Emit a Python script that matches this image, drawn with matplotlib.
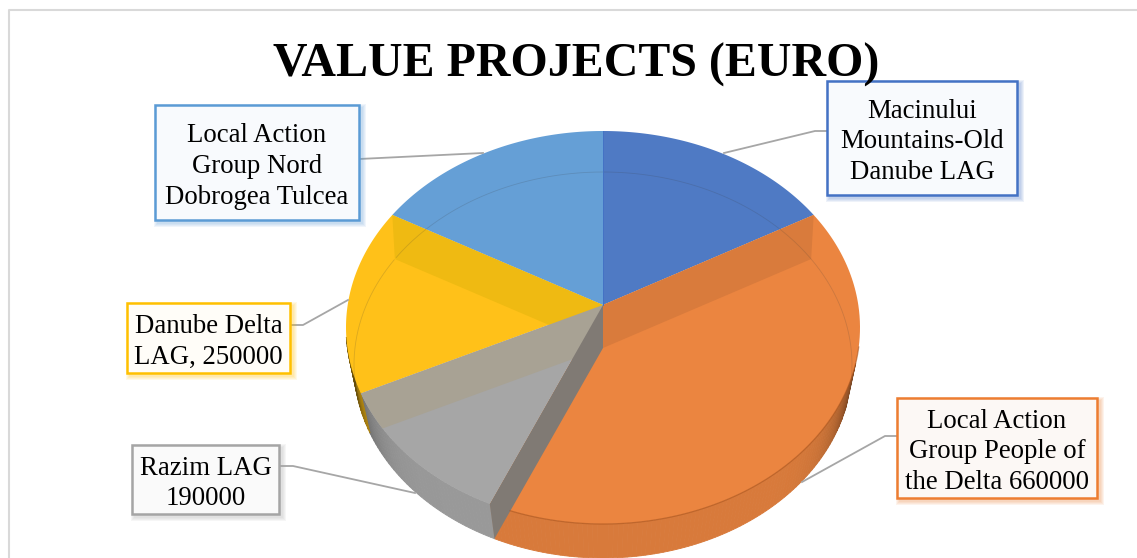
import matplotlib
matplotlib.use('Agg')
import matplotlib.pyplot as plt
from matplotlib.patches import Polygon, Rectangle, Ellipse
from matplotlib.colors import to_rgb
import numpy as np

# clockwise from 12 o'clock; only three values are printed on the chart
slice_names = ['Macinului Mountains-Old Danube LAG', 'Local Action Group People of the Delta',
               'Razim LAG', 'Danube Delta LAG', 'Local Action Group Nord Dobrogea Tulcea']
slice_values = [240000, 660000, 190000, 250000, 240000]
slice_colors = ['#4F7AC4', '#EB8540', '#A6A6A6', '#FFC119', '#659FD6']

title = 'VALUE PROJECTS (EURO)'
box_texts = ['Macinului\nMountains-Old\nDanube LAG', 'Local Action\nGroup People of\nthe Delta 660000',
             'Razim LAG\n190000', 'Danube Delta\nLAG, 250000', 'Local Action\nGroup Nord\nDobrogea Tulcea']
box_edges = ['#4472C4', '#ED7D31', '#A5A5A5', '#FFC000', '#5B9BD5']
box_fills = ['#F8FAFD', '#FCF8F5', '#FAFAFA', '#FFFDF8', '#F8FAFD']
box_rects = [(827, 81, 190, 114), (897, 398, 200, 100), (132, 445, 147, 69),
             (127, 303, 163, 70), (155, 105, 204, 115)]
leaders = [[(827, 131), (815, 131), (724, 153)], [(897, 436), (885, 436), (802, 482)],
           [(279, 466), (293, 466), (415, 493)], [(290, 325), (303, 325), (348, 300)],
           [(359, 159), (483, 153)]]

# top face and bottom face of the tilted disc, in pixels
cx = 603
top_apex, top_yc, top_a, top_b = 305, 327.5, 257, 196.5
low_apex, low_yc, low_a, low_b = 348, 365, 249, 193


def rim(theta, apex, yc, a, b):
    """where the ray at pie angle theta (deg, clockwise from top) hits the ellipse"""
    t = np.radians(theta)
    s = abs(np.sin(t))
    back = 155 if np.cos(t) > 0 else 190 + 50 * s
    dx, dy = 257 * np.sin(t), -back * np.cos(t)
    off = apex - yc
    qa = (dx / a) ** 2 + (dy / b) ** 2
    qb = 2 * off * dy / b ** 2
    qc = (off / b) ** 2 - 1
    k = (-qb + np.sqrt(qb ** 2 - 4 * qa * qc)) / (2 * qa)
    return cx + k * dx, apex + k * dy


def rim_top(theta):
    return rim(theta, top_apex, top_yc, top_a, top_b)


def rim_low(theta):
    return rim(theta, low_apex, low_yc, low_a, low_b)


def wall(theta, color, clip=True):
    poly = Polygon([(cx, top_apex), rim_top(theta), rim_low(theta), (cx, low_apex)],
                   fc=color, ec='none', zorder=3)
    ax.add_patch(poly)
    if clip:
        poly.set_clip_path(Ellipse((cx, top_yc), 2 * top_a, 2 * top_b, transform=ax.transData))


fractions = np.array(slice_values) / sum(slice_values)
edges = np.concatenate([[0], np.cumsum(fractions) * 360])

fig = plt.figure(figsize=(11.37, 5.58), dpi=100)
ax = fig.add_axes([0, 0, 1, 1])
ax.set_xlim(0, 1137)
ax.set_ylim(558, 0)
ax.axis('off')

# chart frame, runs off the right and bottom of the crop
ax.plot([8.5, 8.5, 1137], [558, 10, 10], color='#D9D9D9', lw=1.5, zorder=1)

# outer rim, front half, shaded darker toward both silhouette ends
for i in range(5):
    start, end = edges[i], edges[i + 1]
    for a0 in np.arange(max(start, 104), min(end, 262), 1.0):
        a1 = min(a0 + 1.0, end)
        s = abs(np.sin(np.radians(a0 + 0.5)))
        shade = 0.92 - 0.62 * s ** 14
        col = np.array(to_rgb(slice_colors[i])) * shade
        ax.add_patch(Polygon([rim_top(a0), rim_top(a1), rim_low(a1), rim_low(a0)],
                             fc=col, ec=col, lw=0.6, zorder=2))

# top faces
for i in range(5):
    angs = np.linspace(edges[i], edges[i + 1], 120)
    pts = [(cx, top_apex)] + [rim_top(a) for a in angs]
    ax.add_patch(Polygon(pts, fc=slice_colors[i], ec='none', zorder=2.5))

# inner cut walls seen through the translucent top
wall(edges[1], '#D97B3C')
wall(edges[4], '#EFBA12')
wall(edges[3], '#A8A294')
wall(edges[2], '#807A74', clip=False)

# faint outline of the bottom face, back part only
for a0, a1 in [(-54, 100), (255, 305)]:
    low_pts = np.array([rim_low(a) for a in np.linspace(a0, a1, 200)])
    ax.plot(low_pts[:, 0], low_pts[:, 1], color='#3A3A3A', lw=0.6, alpha=0.18, zorder=3.5)
front = np.linspace(200, 100, 120)
front_pts = np.array([rim_top(a) for a in front])
ax.plot(front_pts[:, 0], front_pts[:, 1], color='#A8531C', lw=0.9, alpha=0.6, zorder=3.5)
ax.plot([cx, cx], [131, top_apex], color='#4472C4', lw=0.7, zorder=3.5)

# leader lines
for pts in leaders:
    xy = np.array(pts)
    ax.plot(xy[:, 0], xy[:, 1], color='#A6A6A6', lw=1.3, zorder=4)

# callout boxes with soft shadow
for text, edge, fill, (x, y, w, h) in zip(box_texts, box_edges, box_fills, box_rects):
    for g in range(4, 0, -1):
        ax.add_patch(Rectangle((x + 3 - g, y + 3 - g), w + 2 * g, h + 2 * g, fc=edge, ec='none',
                               alpha=0.09, zorder=4.5))
    ax.add_patch(Rectangle((x, y), w, h, fc=fill, ec=edge, lw=1.8, zorder=5))
    ax.text(x + w / 2, y + h / 2 + 4, text, ha='center', va='center', family='Liberation Serif',
            fontsize=19.25, linespacing=1.3, color='black', zorder=6)

ax.text(576, 77, title, ha='center', va='baseline', family='Liberation Serif', fontweight='bold',
        fontsize=34.5, color='black', zorder=7)

fig.savefig('out.png', dpi=100)
